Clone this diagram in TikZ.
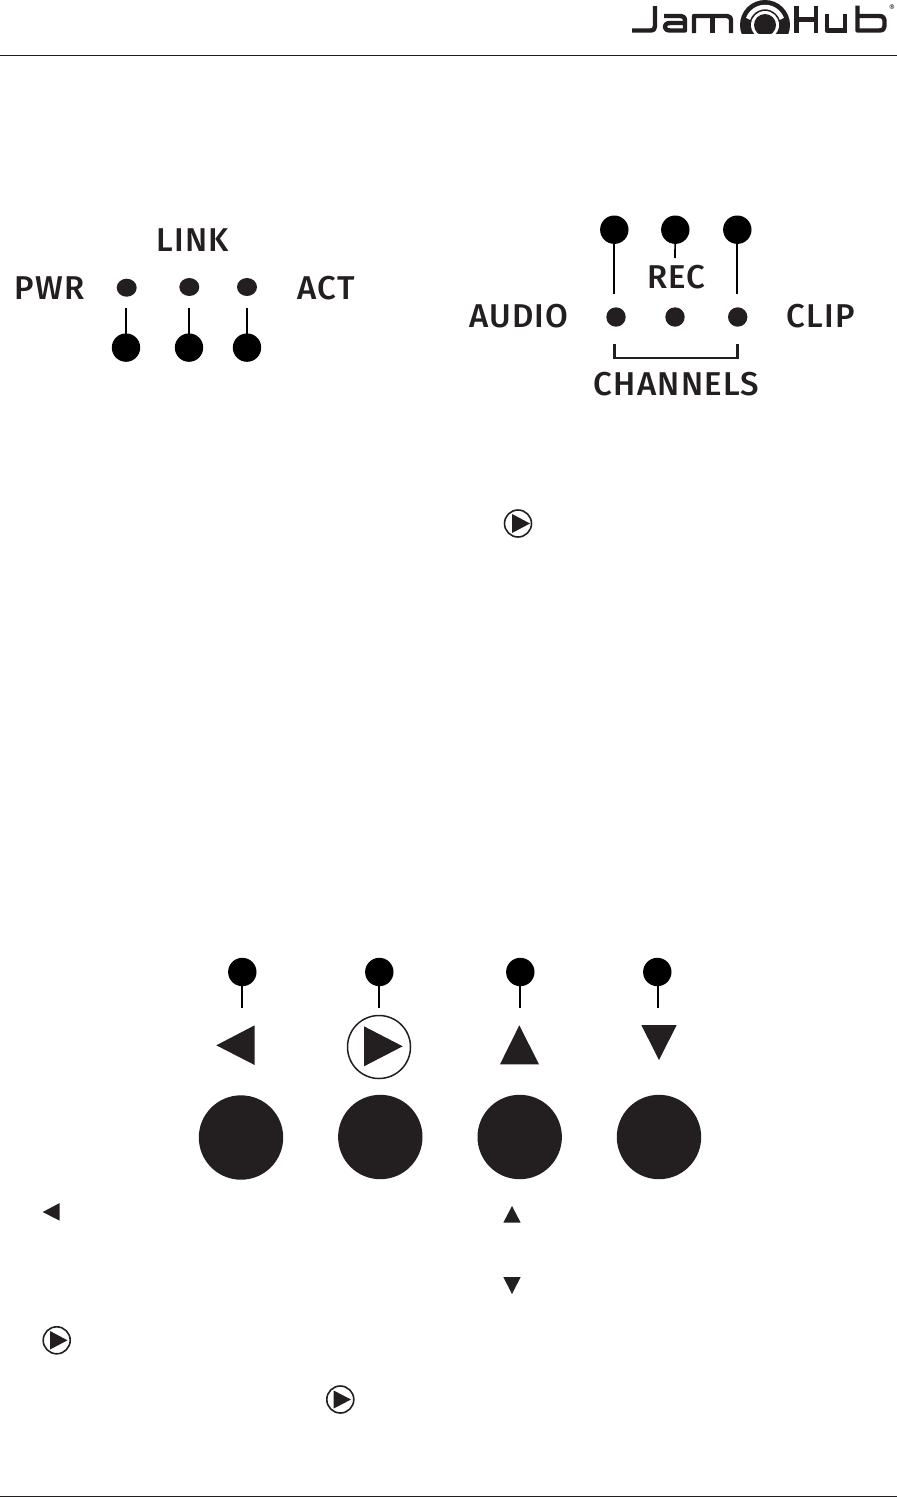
\documentclass[tikz,border=0pt]{standalone}
\usepackage{fontspec}
\setmainfont[BoldFont={Fira Sans Medium},BoldFeatures={LetterSpace=3.6}]{Fira Sans}
\definecolor{ink}{HTML}{231F20}
\usetikzlibrary{shapes.geometric}
\tikzset{
  pin/.style={circle,fill=black,inner sep=0pt,minimum size=28.4pt},
  led/.style={circle,fill=ink,inner sep=0pt,minimum size=19.4pt},
  ledw/.style={ellipse,fill=ink,inner sep=0pt,minimum width=20pt,minimum height=18pt},
  big/.style={circle,fill=ink,inner sep=0pt,minimum size=84.4pt},
  lead/.style={line width=1.7pt,black},
  lab/.style={text=ink,inner sep=0pt,font=\bfseries\fontsize{33}{36}\selectfont,anchor=center},
  tri/.style={fill=ink},
  ring/.style={circle,draw=ink,line width=1.6pt,fill=none,inner sep=0pt,minimum size=27pt},
  rule/.style={line width=1pt,ink},
  logo/.style={line width=4.4pt,ink,line cap=butt,line join=round}
}
\begin{document}
\begin{tikzpicture}[x=1pt,y=-1pt]
\useasboundingbox (0,0) rectangle (897,1497);
% rules
\coordinate (rtl) at (0,55); \coordinate (rtr) at (897,55);
\coordinate (rbl) at (0,1496); \coordinate (rbr) at (897,1496);
\draw[rule] (rtl) -- (rtr);
\draw[rule] (rbl) -- (rbr);
% logo
\draw[logo] (632,30.5) -- (650,30.5) .. controls (654,30.5) and (655,29) .. (655,26) -- (655,6);
\draw[logo] (664,16) -- (681,16) .. controls (684,16) and (685,18) .. (685,20) -- (685,30.5) -- (670,30.5) .. controls (663,30.5) and (663,23) .. (670,23) -- (685,23);
\draw[logo] (694,33) -- (694,16) -- (727,16) .. controls (730,16) and (731,18) .. (731,20) -- (731,33);
\draw[logo] (712.5,16) -- (712.5,33);
\begin{scope}
  \clip (735,0) rectangle (793,33);
  \fill[ink] (765,25) circle (25);
  \draw[white,line width=4.5pt] (765,25) ++(200:18) arc (200:340:18);
  \fill[white] (765,25) circle (14);
  \fill[ink] (765,25) circle (11);
\end{scope}
\draw[logo] (796.5,5.5) -- (796.5,33);
\draw[logo] (816,5.5) -- (816,33);
\draw[logo] (796.5,19.5) -- (816,19.5);
\draw[logo] (827,14) -- (827,30.5) -- (845,30.5);
\draw[logo] (845,14) -- (845,33);
\draw[logo] (857.5,5.5) -- (857.5,30.5) -- (879,30.5) .. controls (883,30.5) and (884.5,29) .. (884.5,26) -- (884.5,20) .. controls (884.5,18) and (883,16) .. (879,16) -- (857.5,16);
\node[inner sep=0pt,text=ink,font=\fontsize{9}{9}\selectfont] (reg) at (892,8.5) {®};
% left panel
\node[ledw] (l1) at (126.7,287.7) {};
\node[ledw] (l2) at (189.3,287) {};
\node[ledw] (l3) at (247,287) {};
\node[pin] (p1) at (126,347.6) {};
\node[pin] (p2) at (189,347.6) {};
\node[pin] (p3) at (247,347.6) {};
\coordinate (c1) at (126,308); \coordinate (c2) at (189,308); \coordinate (c3) at (247,308);
\draw[lead] (p1.center) -- (c1);
\draw[lead] (p2.center) -- (c2);
\draw[lead] (p3.center) -- (c3);
\node[lab] (link) at (192.5,240) {LINK};
\node[lab] (pwr) at (49.5,288) {PWR};
\node[lab] (act) at (326.5,288) {ACT};
% right panel
\node[pin] (q1) at (614.3,229.7) {};
\node[pin] (q2) at (675.3,229.7) {};
\node[pin] (q3) at (737.3,229.7) {};
\node[led] (m1) at (616,317) {};
\node[led] (m2) at (675,317) {};
\node[led] (m3) at (737.7,317) {};
\coordinate (d1) at (613.7,293.7); \coordinate (d2) at (675,258); \coordinate (d3) at (737,293.7);
\draw[lead] (613.7,229.7) -- (d1);
\draw[lead] (q2.center) -- (d2);
\draw[lead] (737,229.7) -- (d3);
\coordinate (b1) at (614.7,344); \coordinate (b2) at (737.3,344);
\draw[ink,line width=2.8pt] (b1) -- (614.7,358) -- (737.3,358) -- (b2);
\node[lab] (rec) at (676.5,277) {REC};
\node[lab] (audio) at (519,316.5) {AUDIO};
\node[lab] (clip) at (820.5,316.5) {CLIP};
\node[lab] (chan) at (676.5,384.5) {CHANNELS};
% inline play icon
\node[ring] (r1) at (518,523.5) {};
\fill[tri] (512,514) -- (512,533) -- (530,523.5) -- cycle;
% pins bottom
\node[pin] (t1) at (242.3,972) {};
\node[pin] (t2) at (379.3,972) {};
\node[pin] (t3) at (520.3,972) {};
\node[pin] (t4) at (657.3,972) {};
\coordinate (e1) at (242,1008); \coordinate (e2) at (379,1008); \coordinate (e3) at (520,1008); \coordinate (e4) at (658,1008);
\draw[lead] (242,972) -- (e1);
\draw[lead] (379,972) -- (e2);
\draw[lead] (520,972) -- (e3);
\draw[lead] (658,972) -- (e4);
% symbols
\fill[tri] (216.3,1045.3) -- (254.7,1025.3) -- (254.7,1065) -- cycle;
\node[circle,draw=ink,line width=1.5pt,inner sep=0pt,minimum size=63pt] (r2) at (379,1047) {};
\fill[tri] (364,1026.3) -- (364,1066.3) -- (402.7,1046.3) -- cycle;
\fill[tri] (519.3,1025.3) -- (500,1064.3) -- (539,1064.3) -- cycle;
\fill[tri] (641.3,1025) -- (676.7,1025) -- (659,1060) -- cycle;
% large buttons
\node[big] (b1n) at (241,1137.5) {};
\node[big] (b2n) at (380.3,1137) {};
\node[big] (b3n) at (519.7,1137) {};
\node[big] (b4n) at (659,1137) {};
% small symbols
\fill[tri] (42.7,1212) -- (59.7,1203) -- (59.7,1220.7) -- cycle;
\fill[tri] (512,1206) -- (503.3,1222.7) -- (520.7,1222.7) -- cycle;
\fill[tri] (503.3,1277) -- (520.7,1277) -- (512,1294) -- cycle;
\node[ring] (r3) at (56.7,1340.3) {};
\fill[tri] (50,1331) -- (50,1349.5) -- (67.5,1340.3) -- cycle;
\node[ring] (r4) at (340.3,1399.5) {};
\fill[tri] (333.7,1390.5) -- (333.7,1408.5) -- (351,1399.5) -- cycle;
\end{tikzpicture}
\end{document}
